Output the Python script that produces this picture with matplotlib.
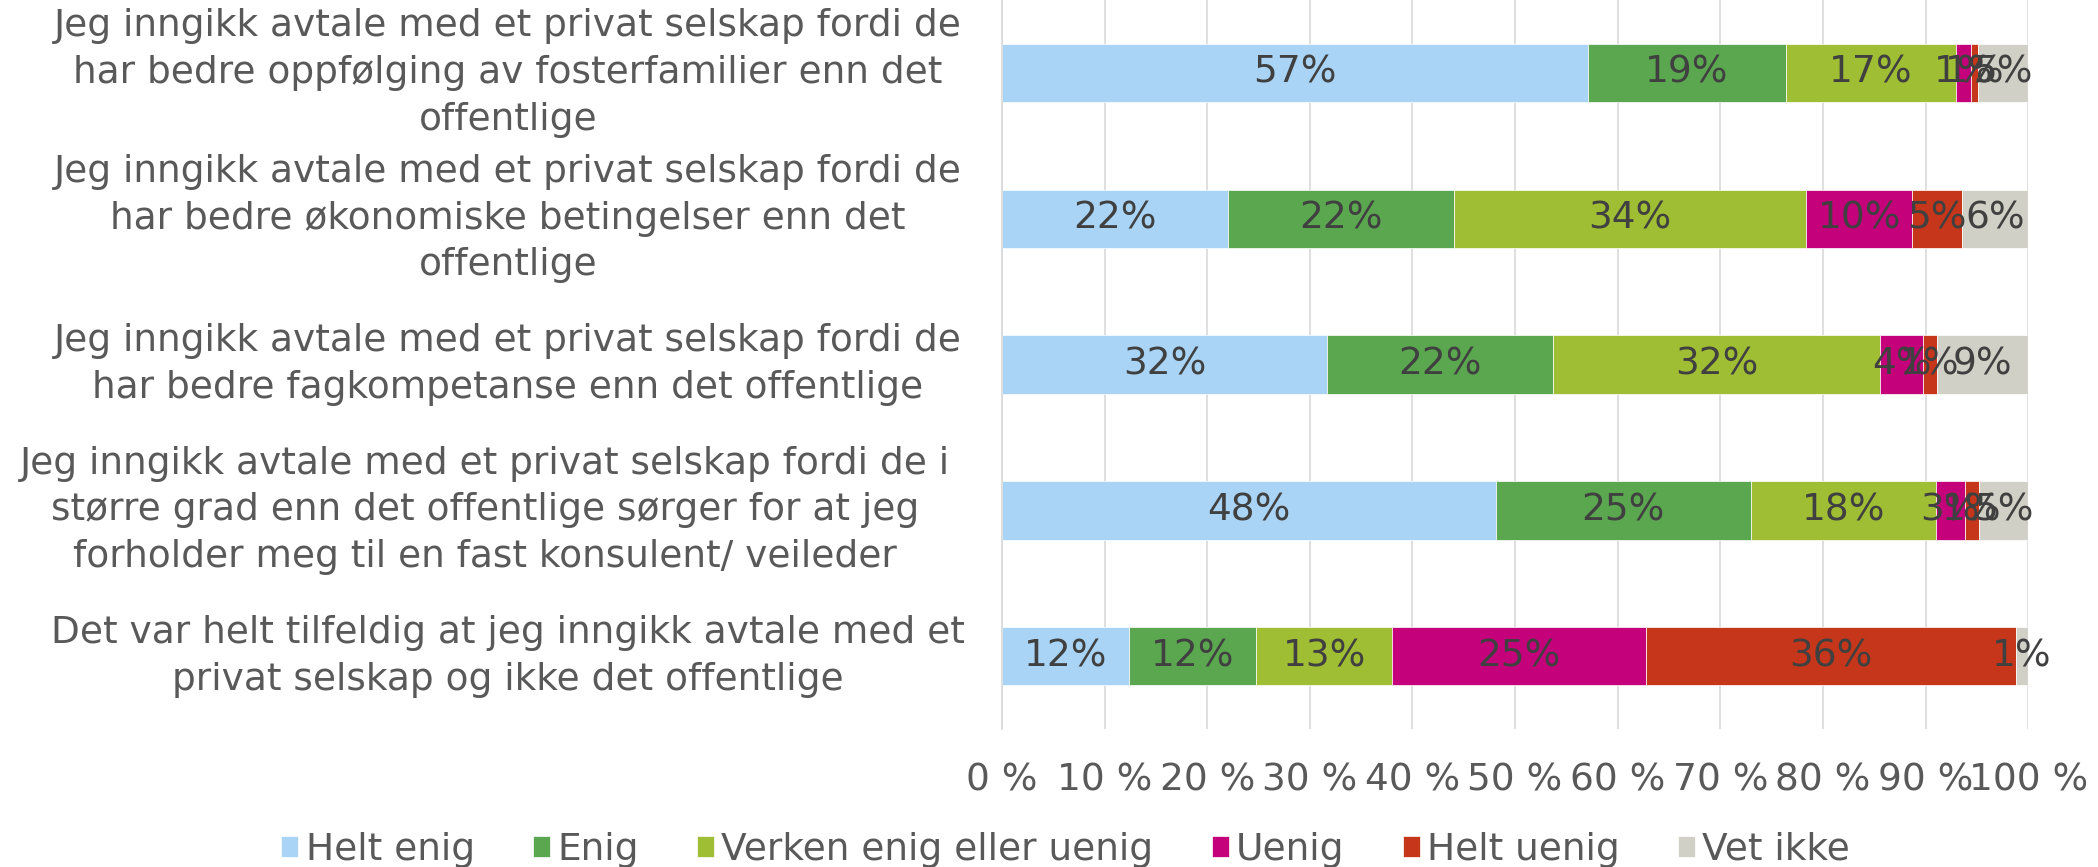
"""Stacked horizontal bar chart: reasons for choosing a private agency."""

import matplotlib
matplotlib.use("Agg")
import matplotlib.pyplot as plt
import numpy as np

TEXT = "#595959"
LABEL = "#404040"
GRID = "#D9D9D9"

categories = [
    "Jeg inngikk avtale med et privat selskap fordi de\nhar bedre oppfølging av fosterfamilier enn det\noffentlige",
    "Jeg inngikk avtale med et privat selskap fordi de\nhar bedre økonomiske betingelser enn det\noffentlige",
    "Jeg inngikk avtale med et privat selskap fordi de\nhar bedre fagkompetanse enn det offentlige",
    "Jeg inngikk avtale med et privat selskap fordi de i\nstørre grad enn det offentlige sørger for at jeg\nforholder meg til en fast konsulent/ veileder",
    "Det var helt tilfeldig at jeg inngikk avtale med et\nprivat selskap og ikke det offentlige",
]

series_names = ["Helt enig", "Enig", "Verken enig eller uenig", "Uenig", "Helt uenig", "Vet ikke"]
series_colors = ["#A9D4F5", "#5BA750", "#A0BE34", "#C4007A", "#C6361A", "#D0D0C6"]

helt_enig = [57.1, 22.0, 31.7, 48.1, 12.4]
enig = [19.3, 22.0, 22.0, 24.9, 12.4]
verken = [16.6, 34.4, 31.9, 18.0, 13.2]
uenig = [1.4, 10.3, 4.2, 2.8, 24.8]
helt_uenig = [0.7, 4.9, 1.3, 1.4, 36.0]
vet_ikke = [4.9, 6.4, 8.9, 4.8, 1.2]

tick_values = np.arange(0, 101, 10)
tick_labels = [f"{v} %" for v in tick_values]

FS = 27
plt.rcParams.update({
    "font.family": "DejaVu Sans",
    "font.size": FS,
})

fig = plt.figure(figsize=(20.98, 8.67), dpi=100)
ax = fig.add_axes([0.4776, 0.159, 0.4891, 0.841])

series = [helt_enig, enig, verken, uenig, helt_uenig, vet_ikke]
y = np.arange(len(categories))
left = np.zeros(len(categories))
for name, vals, color in zip(series_names, series, series_colors):
    vals = np.asarray(vals)
    bars = ax.barh(y, vals, left=left, height=0.4, color=color, label=name,
                   edgecolor="white", linewidth=0.5, zorder=2)
    ax.bar_label(bars, labels=[f"{v:.0f}%" for v in vals], label_type="center",
                 color=LABEL, fontsize=FS)
    left += vals

ax.set_xlim(0, 100)
ax.set_ylim(len(categories) - 0.5, -0.5)
ax.set_xticks(tick_values)
ax.set_xticklabels(tick_labels, color=TEXT)
ax.set_yticks([])
ax.tick_params(axis="x", length=0, pad=24)
ax.grid(axis="x", color=GRID, linewidth=1.2, zorder=0)
for side in ["top", "right", "bottom"]:
    ax.spines[side].set_visible(False)
ax.spines["left"].set_color(GRID)
ax.spines["left"].set_linewidth(1.2)

trans = matplotlib.transforms.blended_transform_factory(fig.transFigure, ax.transData)
for yi, cat in zip(y, categories):
    # the fourth label sits a little left of the others in the original
    x = 0.231 if yi == 3 else 0.242
    ax.text(x, yi, cat, transform=trans, ha="center", va="center",
            color=TEXT, fontsize=FS, linespacing=1.38)

fig.legend(loc="lower center", bbox_to_anchor=(0.508, -0.04), ncol=6, frameon=False,
           handlelength=0.45, handleheight=0.45, handletextpad=0.2, columnspacing=1.55,
           labelcolor=TEXT, fontsize=FS)

fig.savefig("out.png", dpi=100)
